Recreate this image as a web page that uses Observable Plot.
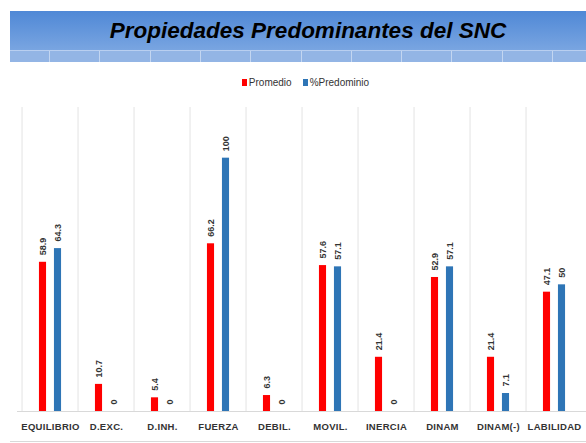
<!DOCTYPE html>
<html>
<head>
<meta charset="utf-8">
<script src="https://cdn.jsdelivr.net/npm/d3@7"></script>
<script src="https://cdn.jsdelivr.net/npm/@observablehq/plot@0.6"></script>
<style>
  html, body { margin: 0; padding: 0; background: #fff; }
  body { width: 586px; height: 443px; position: relative; overflow: hidden; font-family: "Liberation Sans", Arial, sans-serif; }
  #banner { position: absolute; left: 10px; top: 11px; width: 576px; height: 51px; }
  #banner .top { height: 39px; background: linear-gradient(#4f88d6, #79a5e1); text-align: center;
    font: italic bold 22.5px "Liberation Sans", Arial, sans-serif; line-height: 39px; color: #000; padding-left: 20px; box-sizing: border-box; }
  #banner .strip { height: 12px; border-top: 1px solid #b9cff0; box-sizing: border-box;
    background-color: #93b5e5;
    background-image: repeating-linear-gradient(to right, transparent 0px, transparent 39px, #c3d6f1 39px, #c3d6f1 40px, transparent 40px, transparent 50.3px); }
  #legend { position: absolute; left: 0; top: 74px; width: 586px; height: 16px; display: flex; justify-content: center; align-items: center;
    font: 10px "Liberation Sans", Arial, sans-serif; color: #333; padding-left: 25px; box-sizing: border-box; }
  #legend .item { display: flex; align-items: center; margin: 0 5.5px; }
  #legend .sw { width: 5px; height: 7px; margin-right: 2px; }
  #chart { position: absolute; left: 0; top: 95px; }
  #bottomline { position: absolute; left: 10px; top: 441px; width: 576px; height: 1px; background: #d9d9d9; }
  svg g[aria-label^="x-axis"] text { letter-spacing: 0.3px; }
</style>
</head>
<body>
<div id="banner"><div class="top">Propiedades Predominantes del SNC</div><div class="strip"></div></div>
<div id="legend"></div>
<div id="chart"></div>
<div id="bottomline"></div>
<script>
const title = "Propiedades Predominantes del SNC";
const categories = ["EQUILIBRIO", "D.EXC.", "D.INH.", "FUERZA", "DEBIL.", "MOVIL.", "INERCIA", "DINAM", "DINAM(-)", "LABILIDAD"];
const seriesNames = ["Promedio", "%Predominio"];
const promedio = [58.9, 10.7, 5.4, 66.2, 6.3, 57.6, 21.4, 52.9, 21.4, 47.1];
const predominio = [64.3, 0, 0, 100, 0, 57.1, 0, 57.1, 7.1, 50];
const colors = ["#ff0000", "#2e75b6"];

// legend
const legend = document.getElementById("legend");
seriesNames.forEach((s, i) => {
  const item = document.createElement("div");
  item.className = "item";
  const sw = document.createElement("span");
  sw.className = "sw";
  sw.style.background = colors[i];
  const t = document.createElement("span");
  t.textContent = s;
  item.appendChild(sw); item.appendChild(t);
  legend.appendChild(item);
});

const W = 586, H = 346, ML = 17, MR = 0, MT = 12, MB = 30;
const step = (W - ML - MR) / categories.length;
const bw = 8, off = 7.5;

const rows = (vals, s) => categories.map((c, i) => ({category: c, series: s, value: vals[i]}));
const dataP = rows(promedio, seriesNames[0]);
const dataD = rows(predominio, seriesNames[1]);

const labelStyle = {fontSize: 9, fontWeight: "bold", fill: "#333", rotate: -90, textAnchor: "start", dy: -7,
  fontFamily: "'Liberation Sans', Arial, sans-serif"};

const chart = Plot.plot({
  width: W, height: H,
  marginLeft: ML, marginRight: MR, marginTop: MT, marginBottom: MB,
  style: {fontFamily: "'Liberation Sans', Arial, sans-serif", fontSize: "9.5px", fontWeight: "bold", color: "#333", background: "transparent"},
  x: {domain: categories, padding: 0, tickSize: 0, tickPadding: 12, label: null},
  y: {domain: [0, 120], axis: null},
  marks: [
    Plot.ruleX(categories, {x: d => d, stroke: "#e3e3e3", dx: -step / 2}),
    Plot.ruleY([0], {stroke: "#d9d9d9"}),
    Plot.barY(dataP, {x: "category", y: "value", fill: colors[0],
      insetLeft: step / 2 - off - bw / 2, insetRight: step / 2 + off - bw / 2}),
    Plot.barY(dataD, {x: "category", y: "value", fill: colors[1],
      insetLeft: step / 2 + off - bw / 2, insetRight: step / 2 - off - bw / 2}),
    Plot.text(dataP, {x: "category", y: "value", text: d => String(d.value), dx: -off, ...labelStyle}),
    Plot.text(dataD, {x: "category", y: "value", text: d => String(d.value), dx: off, ...labelStyle})
  ]
});
document.getElementById("chart").appendChild(chart);
</script>
</body>
</html>
